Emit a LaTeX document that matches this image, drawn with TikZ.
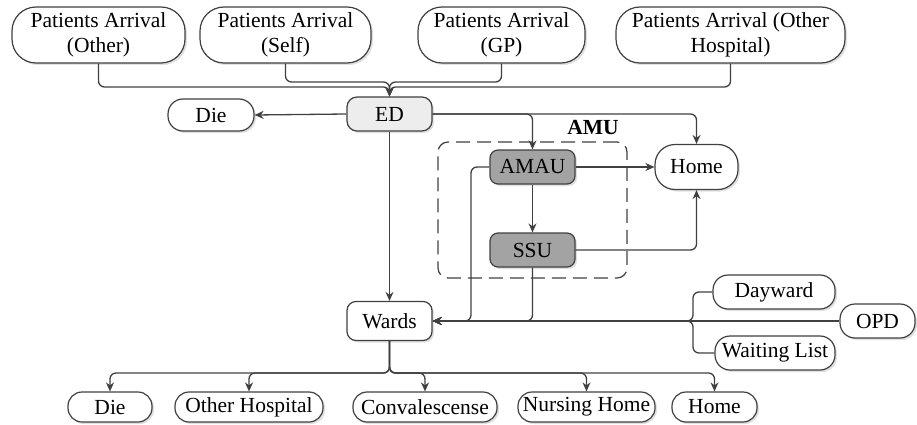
\documentclass[tikz,border=0pt]{standalone}
\usepackage{fontspec}
\setmainfont{Liberation Serif}
\usetikzlibrary{shadows,arrows.meta}
\definecolor{lc}{HTML}{404040}
\definecolor{boxg}{HTML}{A3A3A3}
\definecolor{edg}{HTML}{EDEDED}
\newcommand{\nf}{\rmfamily\fontsize{21.5}{24.5}\selectfont}
\begin{document}
\begin{tikzpicture}[x=1pt,y=-1pt,
  box/.style={draw=lc, line width=1.2pt, fill=white, inner sep=0pt, align=center, font=\nf,
    drop shadow={fill=black!40, opacity=0.3, shadow xshift=2pt, shadow yshift=-2pt}},
  conn/.style={draw=lc, line width=1.3pt, rounded corners=6pt},
  arr/.style={conn, -{Stealth[length=9pt,width=8pt]}},
  topbox/.style={box, minimum height=56pt, rounded corners=24pt},
  pill/.style={box, minimum height=34pt, rounded corners=15pt},
  botbox/.style={box, minimum height=30pt, rounded corners=14pt},
  unitbox/.style={box, minimum width=85pt, minimum height=34pt, rounded corners=8pt},
]
\useasboundingbox (0,0) rectangle (917,425);

% AMU dashed group
\node[draw=lc, line width=1.2pt, dash pattern=on 14pt off 7pt, rounded corners=10pt,
      minimum width=189pt, minimum height=136pt, inner sep=0pt] (amu) at (532.5,210) {};
\node[font=\nf\bfseries, inner sep=0pt] (amulabel) at (593,128) {AMU};

% arrivals
\node[topbox, minimum width=173pt] (t1) at (98.5,35) {Patients Arrival\\(Other)};
\node[topbox, minimum width=171pt] (t2) at (285.5,35) {Patients Arrival\\(Self)};
\node[topbox, minimum width=167pt] (t3) at (501.5,35) {Patients Arrival\\(GP)};
\node[topbox, minimum width=229pt] (t4) at (730.5,35) {Patients Arrival (Other\\Hospital)};

% middle
\node[box, fill=edg, minimum width=85pt, minimum height=34pt, rounded corners=10pt] (ed) at (389.5,114) {ED};
\node[box, minimum width=86pt, minimum height=32pt, rounded corners=15pt] (die1) at (211,115) {Die};
\node[box, minimum width=83pt, minimum height=45pt, rounded corners=20pt] (home1) at (696.5,167) {Home};
\node[unitbox, fill=boxg] (amau) at (532.5,167) {AMAU};
\node[unitbox, fill=boxg] (ssu) at (532.5,250) {SSU};
\node[box, minimum width=85pt, minimum height=39pt, rounded corners=9pt] (wards) at (389.5,321) {Wards};

% right side
\node[pill, minimum width=122pt] (day) at (774,292) {Dayward};
\node[pill, minimum width=75pt] (opd) at (877.5,321) {OPD};
\node[pill, minimum width=120pt] (wait) at (775,353) {Waiting List};

% bottom
\node[botbox, minimum width=84pt] (die2) at (110,407) {Die};
\node[botbox, minimum width=148pt] (oh) at (249,407) {Other Hospital};
\node[botbox, minimum width=144pt] (conv) at (425,407) {Convalescense};
\node[botbox, minimum width=137pt] (nh) at (586.5,407) {Nursing Home};
\node[botbox, minimum width=85pt] (home2) at (714.5,407) {Home};

% junction coordinates
\coordinate (j1) at (389.5,87);
\coordinate (j2) at (389.5,82);
\coordinate (ja) at (471,321);
\coordinate (jr) at (693,321);
\coordinate (jb) at (389.5,373);

% arrivals to ED
\draw[arr] (t1.south) |- (j1) -- (ed.north);
\draw[arr] (t4.south) |- (j1) -- (ed.north);
\draw[arr] (t2.south) |- (j2) -- (ed.north);
\draw[arr] (t3.south) |- (j2) -- (ed.north);

% ED outputs
\draw[arr] (ed.west) -- (die1.east);
\draw[arr] (ed.east) -| (amau.north);
\draw[arr] (ed.east) -| (home1.north);
\draw[arr] (ed.south) -- (wards.north);

% AMU internals
\draw[arr] (amau.east) -- (home1.west);
\draw[arr] (amau.south) -- (ssu.north);
\draw[arr] (ssu.east) -| (home1.south);
\draw[arr] (amau.west) -| (ja) -- (wards.east);
\draw[arr] (ssu.south) |- (wards.east);

% right side to wards
\draw[arr] (opd.west) -- (wards.east);
\draw[arr] (day.west) -| (jr) -- (wards.east);
\draw[arr] (wait.west) -| (jr) -- (wards.east);

% wards outputs
\draw[arr] (wards.south) -- (jb) -| (die2.north);
\draw[arr] (wards.south) -- (jb) -| (oh.north);
\draw[arr] (wards.south) -- (jb) -| (conv.north);
\draw[arr] (wards.south) -- (jb) -| (nh.north);
\draw[arr] (wards.south) -- (jb) -| (home2.north);
\end{tikzpicture}
\end{document}
